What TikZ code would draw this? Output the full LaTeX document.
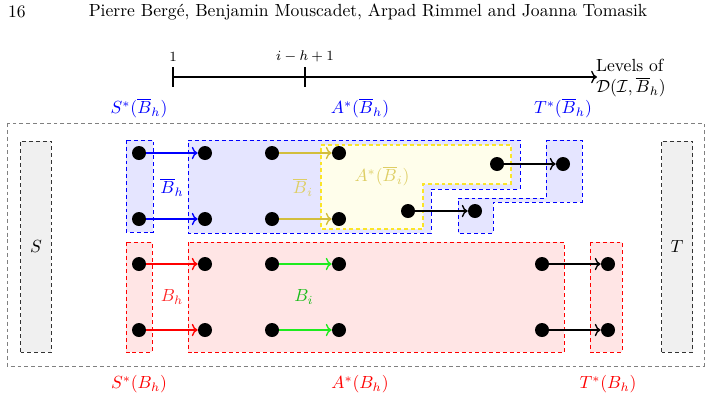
\documentclass[tikz,border=0pt]{standalone}
\usepackage{amsmath}
\usepackage{color}
\usepackage{tikz}
\usetikzlibrary{arrows.meta, positioning}
\definecolor{biColor}{RGB}{210,190,60}
\definecolor{biLabel}{RGB}{222,206,100}
\definecolor{greenArc}{RGB}{30,235,30}
\definecolor{yellowEdge}{RGB}{250,228,40}
\tikzstyle{vertex} = [circle, fill=black, inner sep=0pt, minimum size=0.28cm]
\tikzstyle{arrow} = [thick, ->]

\begin{document}
\begin{tikzpicture}[
    x=0.02cm, y=-0.02cm,
    shortdash/.style={dash pattern=on 2.2pt off 1.7pt, line width=0.5pt},
    frame/.style={draw=gray, shortdash},
    terminal/.style={draw=black!80, shortdash, fill=gray!12, minimum width=0.62cm, minimum height=4.22cm, inner sep=0pt},
    bluezone/.style={draw=blue, shortdash, fill=blue!10},
    redzone/.style={draw=red, shortdash, fill=red!10},
    yellowzone/.style={draw=yellowEdge, shortdash, line width=0.65pt, fill=yellow!8},
    axis/.style={draw, thick}
]
\useasboundingbox (0,0) rectangle (712,403);

% Header
\node[anchor=west] (pagenum) at (2,12) {16};
\node (header) at (368,12) {Pierre Berg\'e, Benjamin Mouscadet, Arpad Rimmel and Joanna Tomasik};

% Levels axis
\coordinate (lvlone) at (173,77);
\coordinate (lvlih) at (305,77);
\coordinate (lvlend) at (597,77);
\draw[axis, ->] (lvlone) -- (lvlend);
\draw[axis] ([yshift=0.2cm]lvlone) -- ([yshift=-0.2cm]lvlone);
\draw[axis] ([yshift=0.2cm]lvlih) -- ([yshift=-0.2cm]lvlih);
\node[font=\footnotesize, above=0.18cm of lvlone] (lblone) {$1$};
\node[font=\footnotesize, above=0.18cm of lvlih] (lblih) {$i-h+1$};
\node[anchor=west, align=left, inner sep=1pt] (levels) at (594,78) {Levels of\\$\mathcal{D}(\mathcal{I},\overline{B}_h)$};

% Zone labels
\node[text=blue] (sbh) at (139,108) {$S^*(\overline{B}_h)$};
\node[text=blue] (abh) at (360,108) {$A^*(\overline{B}_h)$};
\node[text=blue] (tbh) at (563,108) {$T^*(\overline{B}_h)$};
\node[text=red] (sh) at (139,384) {$S^*(B_h)$};
\node[text=red] (ah) at (360,384) {$A^*(B_h)$};
\node[text=red] (th) at (608,384) {$T^*(B_h)$};

% Frame and terminals
\draw[frame] (7,123) rectangle (704,366);
\node[terminal] (S) at (36,246.5) {$S$};
\node[terminal] (T) at (677,246.5) {$T$};

% Zones of Bh bar
\draw[bluezone] (126,140) rectangle (153,232);
\draw[bluezone] (188,140) -- (520,140) -- (520,189) -- (431,189) -- (431,233) -- (188,233) -- cycle;
\draw[bluezone] (546,140) -- (582,140) -- (582,202) -- (493,202) -- (493,233) -- (458,233) -- (458,198) -- (546,198) -- cycle;
\draw[yellowzone] (321,145) -- (511,145) -- (511,184) -- (423,184) -- (423,229) -- (321,229) -- cycle;

% Zones of Bh
\draw[redzone] (126,242) rectangle (152,352);
\draw[redzone] (188,242) rectangle (564,352);
\draw[redzone] (590,242) rectangle (622,352);

% Vertices (blue part)
\node[vertex] (b1) at (139,153) {};
\node[vertex] (b2) at (205,153) {};
\node[vertex] (b3) at (272,153) {};
\node[vertex] (b4) at (339,153) {};
\node[vertex] (b5) at (139,219) {};
\node[vertex] (b6) at (205,219) {};
\node[vertex] (b7) at (272,219) {};
\node[vertex] (b8) at (339,219) {};
\node[vertex] (b9) at (497,164) {};
\node[vertex] (b10) at (563,164) {};
\node[vertex] (b11) at (408,211) {};
\node[vertex] (b12) at (475,211) {};

% Vertices (red part)
\node[vertex] (r1) at (139,264) {};
\node[vertex] (r2) at (205,264) {};
\node[vertex] (r3) at (272,264) {};
\node[vertex] (r4) at (339,264) {};
\node[vertex] (r5) at (542,264) {};
\node[vertex] (r6) at (608,264) {};
\node[vertex] (r7) at (139,330) {};
\node[vertex] (r8) at (205,330) {};
\node[vertex] (r9) at (272,330) {};
\node[vertex] (r10) at (339,330) {};
\node[vertex] (r11) at (542,330) {};
\node[vertex] (r12) at (608,330) {};

% Arcs
\draw[arrow, blue] (b1) -- (b2);
\draw[arrow, blue] (b5) -- (b6);
\draw[arrow, biColor] (b3) -- (b4);
\draw[arrow, biColor] (b7) -- (b8);
\draw[arrow] (b9) -- (b10);
\draw[arrow] (b11) -- (b12);
\draw[arrow, red] (r1) -- (r2);
\draw[arrow, red] (r7) -- (r8);
\draw[arrow, greenArc] (r3) -- (r4);
\draw[arrow, greenArc] (r9) -- (r10);
\draw[arrow] (r5) -- (r6);
\draw[arrow] (r11) -- (r12);

% Arc labels
\node[text=blue] (lbh) at (172,187) {$\overline{B}_h$};
\node[text=biLabel] (lbi) at (303,187) {$\overline{B}_i$};
\node[text=biLabel] (abi) at (382,176) {$A^*(\overline{B}_i)$};
\node[text=red!85] (lh) at (172,297) {$B_h$};
\node[text=greenArc!80!black] (li) at (304,297) {$B_i$};
\end{tikzpicture}
\end{document}
